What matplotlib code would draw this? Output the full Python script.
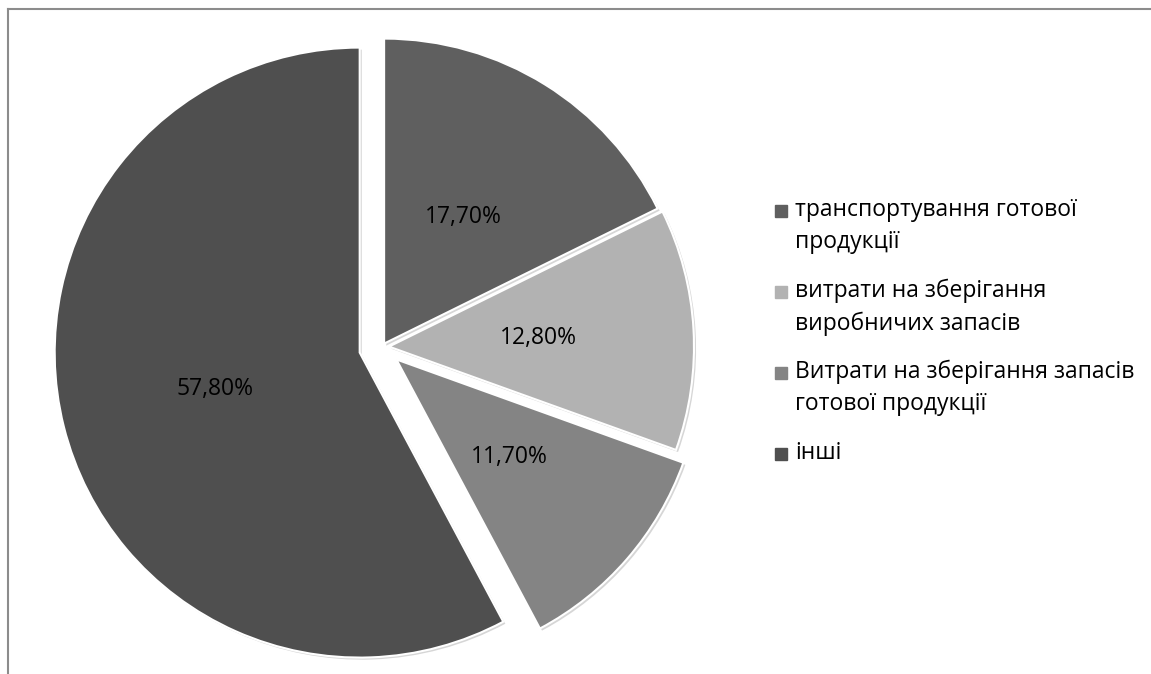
import matplotlib.pyplot as plt
import matplotlib.patheffects as pe
from matplotlib.patches import Rectangle
from matplotlib.lines import Line2D

plt.rcParams['font.family'] = ['Open Sans', 'DejaVu Sans']

# дані
labels = ['транспортування готової\nпродукції',
          'витрати на зберігання\nвиробничих запасів',
          'Витрати на зберігання запасів\nготової продукції',
          'інші']
values = [17.7, 12.8, 11.7, 57.8]
colors = ['#5f5f5f', '#b2b2b2', '#848484', '#4f4f4f']
# зміщення секторів (у пікселях)
explode = [4, 7, 19, 23]

W, H = 1151, 674
fig = plt.figure(figsize=(W / 100, H / 100), dpi=100)
ax = fig.add_axes([0, 0, 1, 1])

wedges, texts, autotexts = ax.pie(
    values, colors=colors, explode=explode, startangle=90, counterclock=False,
    radius=305, center=(382, H - 347),
    autopct=lambda p: f'{p:.2f}%'.replace('.', ','), pctdistance=0.49,
    wedgeprops=dict(edgecolor='white', linewidth=1.5),
    textprops=dict(fontsize=16.5, color='black'))

# легка тінь як в Excel
for w in wedges:
    w.set_path_effects([pe.SimplePatchShadow(offset=(1.5, -1.5), shadow_rgbFace='#999999', alpha=0.4),
                        pe.Normal()])

ax.set_xlim(0, W)
ax.set_ylim(0, H)
ax.set_aspect('equal')
ax.axis('off')

# легенда (вручну)
y0 = 211
for i, (lab, c) in enumerate(zip(labels, colors)):
    y = y0 + i * 81
    fig.patches.append(Rectangle((775 / W, 1 - (y + 6) / H), 12 / W, 12 / H,
                                 transform=fig.transFigure, color=c))
    fig.text(795 / W, 1 - (y - 13) / H, lab, fontsize=16.5, va='top', ha='left',
             linespacing=1.45)

# рамка
fig.lines.append(Line2D([8 / W, 8 / W], [0, 1 - 9 / H], transform=fig.transFigure,
                        color='#8c8c8c', lw=1.5))
fig.lines.append(Line2D([8 / W, 1], [1 - 9 / H, 1 - 9 / H], transform=fig.transFigure,
                        color='#8c8c8c', lw=1.5))

plt.savefig('out.png', dpi=100)
